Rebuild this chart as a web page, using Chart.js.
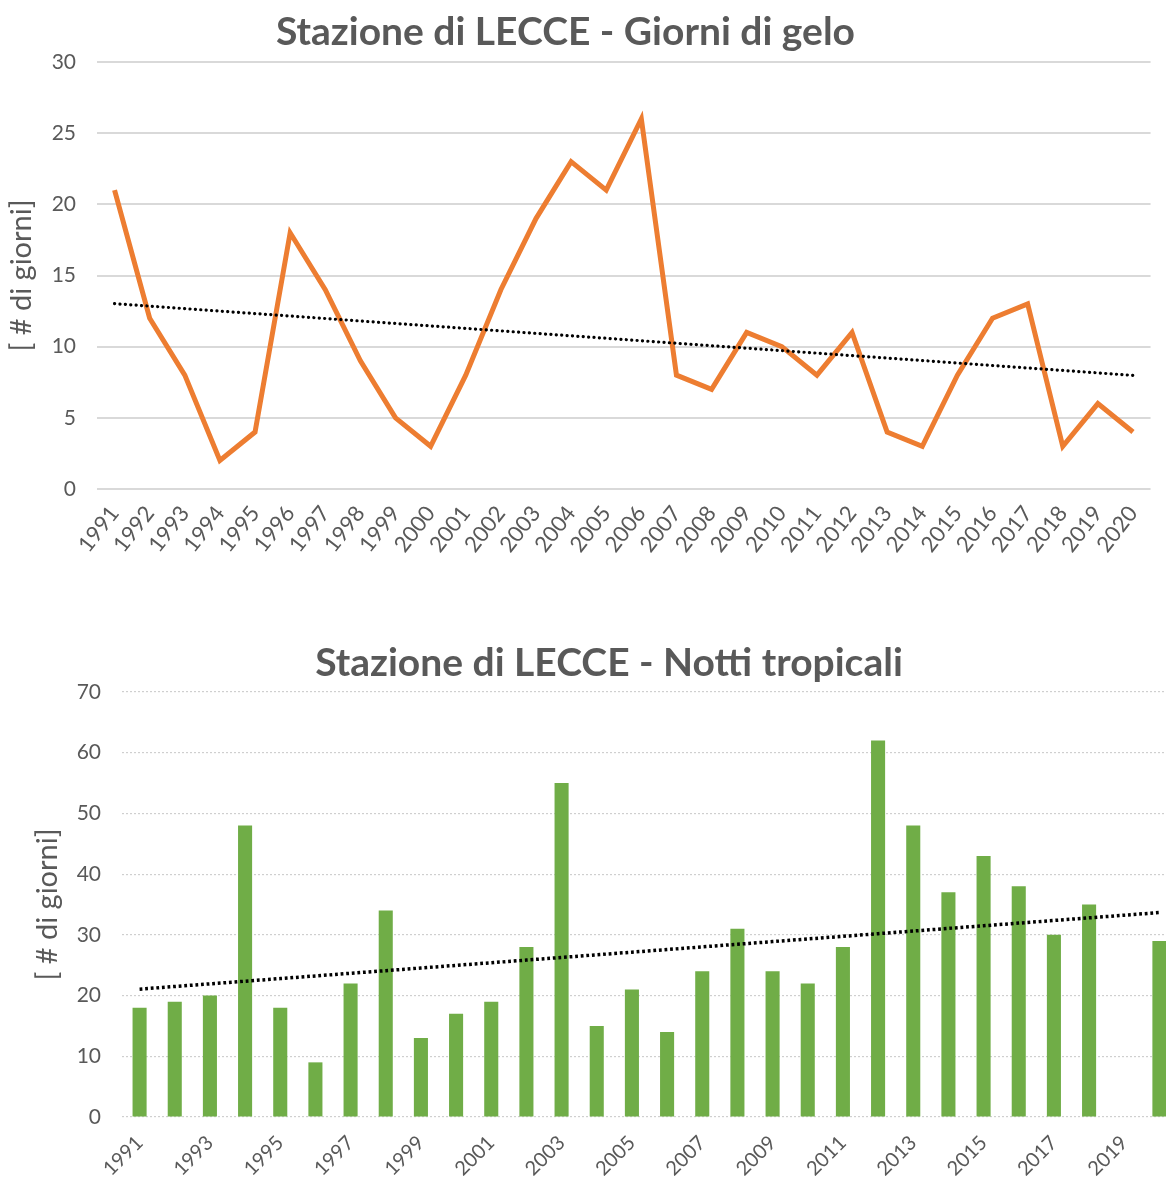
<!DOCTYPE html>
<html>
<head>
<meta charset="utf-8">
<script src="https://cdn.jsdelivr.net/npm/chart.js@4.4.1/dist/chart.umd.min.js"></script>
<style>
  html, body { margin: 0; padding: 0; background: #fff; overflow: hidden; width: 1166px; height: 1182px; position: relative; }
  #geloBox { position: absolute; left: -35px; top: 0; width: 1201px; height: 575px; }
  #nottiBox { position: absolute; left: 0; top: 628px; width: 1218px; height: 554px; }
</style>
</head>
<body>
<div id="geloBox"><canvas id="geloChart"></canvas></div>
<div id="nottiBox"><canvas id="nottiChart"></canvas></div>
<script>
const anni = [
  "1991", "1992", "1993", "1994", "1995", "1996", "1997", "1998", "1999", "2000",
  "2001", "2002", "2003", "2004", "2005", "2006", "2007", "2008", "2009", "2010",
  "2011", "2012", "2013", "2014", "2015", "2016", "2017", "2018", "2019", "2020"
];
const giorniGelo = [21, 12, 8, 2, 4, 18, 14, 9, 5, 3, 8, 14, 19, 23, 21, 26, 8, 7, 11, 10, 8, 11, 4, 3, 8, 12, 13, 3, 6, 4];
const nottiTropicali = [18, 19, 20, 48, 18, 9, 22, 34, 13, 17, 19, 28, 55, 15, 21, 14, 24, 31, 24, 22, 28, 62, 48, 37, 43, 38, 30, 35, 0, 29];
const tickGelo = [0, 5, 10, 15, 20, 25, 30];
const tickNotti = [0, 10, 20, 30, 40, 50, 60, 70];

const FONT = "Lato, 'Open Sans', sans-serif";
const GRIGIO = "#595959";

// retta dei minimi quadrati sugli indici delle categorie
function lineaTendenza(valori) {
  const n = valori.length;
  const mx = (n - 1) / 2;
  const my = valori.reduce((a, b) => a + b, 0) / n;
  let sxy = 0, sxx = 0;
  valori.forEach((v, i) => { sxy += (i - mx) * (v - my); sxx += (i - mx) * (i - mx); });
  const m = sxy / sxx;
  return valori.map((_, i) => my + m * (i - mx));
}

function opzioniBase(cfg) {
  return {
    responsive: true,
    maintainAspectRatio: false,
    animation: false,
    layout: { padding: 0 },
    plugins: {
      legend: { display: false },
      tooltip: { enabled: false },
      title: {
        display: true,
        text: cfg.titolo,
        color: GRIGIO,
        font: { family: FONT, size: 39, weight: "bold" },
        padding: cfg.titlePad
      }
    },
    scales: {
      x: {
        offset: true,
        grid: { display: false, drawTicks: false },
        border: { display: false },
        ticks: {
          color: GRIGIO,
          font: { family: FONT, size: cfg.xFont },
          minRotation: cfg.rot,
          maxRotation: cfg.rot,
          autoSkip: false,
          padding: cfg.xPad
        },
        afterFit: (s) => { s.height = cfg.xHeight; }
      },
      y: {
        min: cfg.ticks[0],
        max: cfg.ticks[cfg.ticks.length - 1],
        grid: {
          color: cfg.gridColor,
          lineWidth: cfg.gridWidth,
          drawTicks: false
        },
        border: { display: false, dash: cfg.gridDash },
        ticks: {
          stepSize: cfg.ticks[1] - cfg.ticks[0],
          color: GRIGIO,
          font: { family: FONT, size: 21 },
          padding: 21
        },
        title: {
          display: true,
          text: "[ # di giorni]",
          color: GRIGIO,
          font: { family: FONT, size: 29 },
          padding: { top: cfg.yTitlePad, bottom: 0 }
        },
        afterFit: (s) => { s.width = cfg.yWidth; }
      },
      // margine destro vuoto: non restringe il titolo come farebbe layout.padding
      margine: {
        type: "linear",
        position: "right",
        grid: { display: false, drawTicks: false },
        border: { display: false },
        ticks: { display: false },
        afterFit: (s) => { s.width = cfg.rightGap; }
      }
    }
  };
}

const geloOpts = opzioniBase({
  titolo: "Stazione di LECCE - Giorni di gelo",
  ticks: tickGelo,
  yWidth: 132,
  yTitlePad: 39,
  rot: 52,
  xFont: 22,
  xHeight: 86,
  xPad: 12,
  rightGap: 12,
  titlePad: { top: 8.6, bottom: 6.6 },
  gridColor: "#d9d9d9",
  gridWidth: 2,
  gridDash: []
});
new Chart(document.getElementById("geloChart"), {
  type: "line",
  data: {
    labels: anni,
    datasets: [
      {
        label: "Tendenza",
        data: lineaTendenza(giorniGelo),
        borderColor: "#000",
        borderWidth: 3.2,
        borderDash: [0.1, 5.3],
        borderCapStyle: "round",
        pointRadius: 0,
        order: 0
      },
      {
        label: "Giorni di gelo",
        data: giorniGelo,
        borderColor: "#ed7d31",
        borderWidth: 5,
        pointRadius: 0,
        tension: 0,
        order: 1
      }
    ]
  },
  options: geloOpts
});

const nottiOpts = opzioniBase({
  titolo: "Stazione di LECCE - Notti tropicali",
  ticks: tickNotti,
  yWidth: 122,
  yTitlePad: 30.6,
  rot: 45,
  xFont: 20,
  xHeight: 65,
  xPad: 14,
  rightGap: 41,
  titlePad: { top: 11.6, bottom: 5.6 },
  gridColor: "#cfcfcf",
  gridWidth: 1.2,
  gridDash: [2, 2]
});
nottiOpts.scales.x.ticks.callback = function (v, i) { return i % 2 === 0 ? this.getLabelForValue(v) : ""; };
new Chart(document.getElementById("nottiChart"), {
  data: {
    labels: anni,
    datasets: [
      {
        type: "line",
        label: "Tendenza",
        data: lineaTendenza(nottiTropicali),
        borderColor: "#000",
        borderWidth: 3.5,
        borderDash: [2.8, 2.8],
        borderCapStyle: "butt",
        pointRadius: 0,
        order: 0
      },
      {
        type: "bar",
        label: "Notti tropicali",
        data: nottiTropicali,
        backgroundColor: "#70ad47",
        categoryPercentage: 1,
        barPercentage: 0.4,
        order: 1
      }
    ]
  },
  options: nottiOpts
});
</script>
</body>
</html>
